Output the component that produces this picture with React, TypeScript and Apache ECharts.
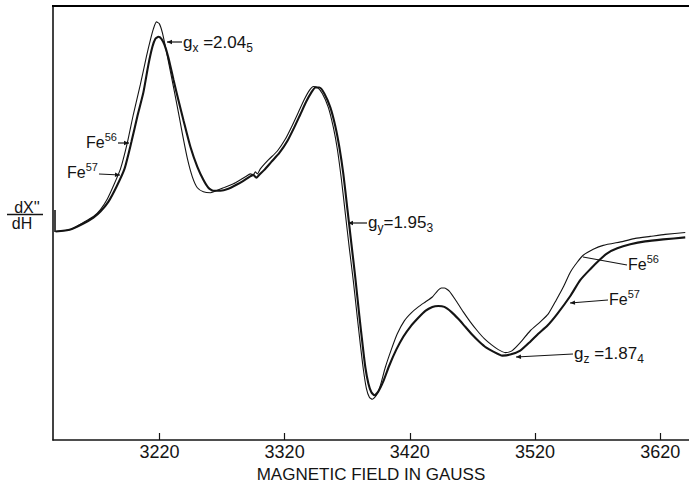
import React, { useEffect, useRef } from "react";
import * as echarts from "echarts";

// Magnetic field (gauss) and derivative signal (arbitrary units) for each isotope
const fe56Field = [3137.0, 3148.9, 3159.3, 3167.3, 3172.9, 3178.5, 3183.3, 3188.9, 3194.5, 3199.2, 3204.8, 3209.6, 3212.8, 3215.2, 3217.6, 3220.0, 3222.4, 3224.8, 3228.8, 3234.4, 3238.4, 3242.4, 3246.3, 3250.3, 3255.1, 3260.7, 3271.1, 3279.1, 3284.7, 3288.7, 3292.7, 3295.0, 3296.6, 3298.2, 3300.6, 3307.0, 3314.2, 3320.6, 3326.2, 3331.0, 3335.8, 3339.8, 3343.0, 3346.1, 3350.1, 3354.9, 3358.9, 3362.1, 3365.3, 3368.5, 3371.7, 3374.9, 3378.1, 3380.5, 3382.9, 3385.3, 3387.7, 3390.1, 3393.3, 3396.5, 3400.4, 3405.2, 3410.0, 3415.6, 3421.2, 3426.8, 3432.4, 3438.0, 3442.0, 3445.2, 3447.6, 3451.5, 3457.1, 3462.7, 3468.3, 3473.9, 3479.5, 3485.1, 3490.7, 3496.3, 3501.8, 3508.2, 3516.2, 3524.2, 3530.6, 3537.0, 3542.6, 3548.2, 3553.7, 3558.5, 3566.5, 3574.5, 3590.5, 3600.1, 3612.0, 3624.0, 3640.0];
const fe56Signal = [-1, 1, 8, 14, 21, 32, 45, 62, 89, 117, 147, 175, 192, 203, 210, 208, 199, 185, 160, 124, 97, 72, 54, 43, 39, 38, 43, 47, 51, 54, 57, 56, 59, 57, 62, 71, 80, 92, 106, 119, 132, 141, 145, 144, 138, 124, 104, 82, 52, 17, -18, -51, -88, -115, -140, -159, -168, -170, -166, -156, -138, -120, -104, -91, -83, -77, -72, -67, -61, -58, -58, -61, -71, -82, -92, -101, -109, -115, -120, -123, -121, -113, -101, -92, -84, -70, -57, -42, -32, -25, -19, -15, -11, -8, -6, -4, -2];

const fe57Field = [3137.0, 3148.9, 3159.3, 3167.3, 3172.9, 3179.3, 3185.7, 3192.1, 3197.6, 3202.4, 3207.2, 3211.2, 3214.4, 3216.8, 3219.2, 3221.6, 3224.0, 3227.2, 3231.2, 3235.2, 3239.2, 3244.8, 3250.3, 3255.1, 3259.1, 3263.1, 3268.7, 3275.1, 3281.5, 3287.1, 3291.9, 3295.0, 3297.4, 3299.8, 3303.8, 3309.4, 3315.8, 3322.2, 3327.8, 3332.6, 3337.4, 3341.4, 3344.6, 3347.7, 3351.7, 3356.5, 3360.5, 3363.7, 3366.9, 3370.1, 3373.3, 3376.5, 3379.7, 3382.1, 3384.5, 3386.9, 3389.3, 3391.7, 3394.9, 3398.8, 3403.6, 3409.2, 3414.8, 3420.4, 3426.8, 3432.4, 3438.0, 3442.8, 3447.6, 3453.1, 3458.7, 3464.3, 3469.9, 3475.5, 3481.1, 3486.7, 3493.9, 3500.2, 3508.2, 3516.2, 3522.6, 3529.8, 3537.8, 3548.2, 3556.1, 3564.1, 3572.1, 3577.7, 3585.7, 3596.1, 3608.0, 3622.4, 3640.0];
const fe57Signal = [-1, 1, 7, 13, 19, 29, 44, 62, 89, 115, 139, 167, 185, 193, 195, 193, 187, 174, 152, 131, 111, 84, 64, 51, 43, 40, 40, 42, 46, 50, 54, 56, 53, 56, 61, 69, 78, 90, 104, 117, 130, 139, 144, 144, 138, 124, 105, 84, 57, 22, -13, -48, -86, -113, -138, -154, -163, -166, -162, -152, -136, -120, -107, -97, -88, -81, -77, -76, -77, -82, -89, -97, -105, -112, -118, -122, -126, -125, -121, -112, -104, -96, -84, -66, -50, -39, -29, -23, -18, -14, -11, -9, -7];

const tickValues = [3220, 3320, 3420, 3520, 3620];
const fieldMin = 3135;
const fieldMax = 3643;
const signalMin = -211;
const signalMax = 226;

const INK = "#141414";
const FONT = "Liberation Sans";

function richLabel(x: number, y: number, text: string, align: string, size = 17) {
  const small = Math.round(size * 0.68);
  return {
    type: "text",
    x,
    y,
    style: {
      text,
      align,
      verticalAlign: "middle",
      fill: INK,
      font: `${size}px "${FONT}"`,
      rich: {
        m: { fontSize: size, fontFamily: FONT, fill: INK, lineHeight: size + 6 },
        sub: { fontSize: small, fontFamily: FONT, fill: INK, lineHeight: small, verticalAlign: "bottom" },
        sup: { fontSize: small, fontFamily: FONT, fill: INK, lineHeight: small, verticalAlign: "top" },
      },
    },
  };
}

function arrow(x1: number, y1: number, x2: number, y2: number, head = true) {
  const els: any[] = [
    { type: "line", shape: { x1, y1, x2, y2 }, style: { stroke: INK, lineWidth: 1.2 } },
  ];
  if (head) {
    const ang = Math.atan2(y2 - y1, x2 - x1);
    const L = 5;
    const W = 2.2;
    const bx = x2 - L * Math.cos(ang);
    const by = y2 - L * Math.sin(ang);
    els.push({
      type: "polygon",
      shape: {
        points: [
          [x2, y2],
          [bx + W * Math.sin(ang), by - W * Math.cos(ang)],
          [bx - W * Math.sin(ang), by + W * Math.cos(ang)],
        ],
      },
      style: { fill: INK },
    });
  }
  return els;
}

export default function App() {
  const ref = useRef<HTMLDivElement>(null);
  useEffect(() => {
    if (!ref.current) return;
    const chart = echarts.init(ref.current, null, { renderer: "svg" });
    const d56 = fe56Field.map((f, i) => [f, fe56Signal[i]]);
    const d57 = fe57Field.map((f, i) => [f, fe57Signal[i]]);
    const graphics: any[] = [
      // top frame line
      { type: "line", shape: { x1: 52, y1: 6, x2: 689, y2: 6 }, style: { stroke: "#000", lineWidth: 2 }, z: 100 },
      // y-axis label dX''/dH
      { type: "text", x: 27, y: 207, style: { text: "dX''", align: "center", verticalAlign: "middle", fill: INK, font: `16px "${FONT}"` } },
      { type: "line", shape: { x1: 7, y1: 214.5, x2: 43, y2: 214.5 }, style: { stroke: INK, lineWidth: 1.3 } },
      { type: "text", x: 22, y: 223, style: { text: "dH", align: "center", verticalAlign: "middle", fill: INK, font: `16px "${FONT}"` } },
      // baseline marker
      { type: "line", shape: { x1: 55, y1: 210, x2: 55, y2: 232 }, style: { stroke: INK, lineWidth: 1.6 } },
      // annotations
      ...arrow(182, 42, 167, 42),
      richLabel(183, 42, "{m|g}{sub|x}{m| =2.04}{sub|5}", "left", 17),
      ...arrow(118, 143, 129, 143),
      richLabel(117, 142, "{m|Fe}{sup|56}", "right", 16),
      ...arrow(99, 174, 120, 175),
      richLabel(98, 172, "{m|Fe}{sup|57}", "right", 16),
      ...arrow(367, 223, 348, 223),
      richLabel(368, 222, "{m|g}{sub|y}{m|=1.95}{sub|3}", "left", 17),
      ...arrow(583, 257, 627, 265, false),
      richLabel(628, 264, "{m|Fe}{sup|56}", "left", 16),
      ...arrow(608, 300, 570, 303),
      richLabel(609, 299, "{m|Fe}{sup|57}", "left", 16),
      ...arrow(573, 354, 516, 357),
      richLabel(574, 353, "{m|g}{sub|z}{m| =1.87}{sub|4}", "left", 17),
    ];
    chart.setOption({
      animation: false,
      backgroundColor: "#ffffff",
      grid: { left: 53, right: 0, top: 6, bottom: 45 },
      xAxis: {
        type: "value",
        min: fieldMin,
        max: fieldMax,
        position: "bottom",
        axisLine: { show: true, onZero: false, lineStyle: { color: INK, width: 1.6 } },
        axisTick: { show: true, inside: true, length: 7, customValues: tickValues, lineStyle: { color: INK, width: 1.2 } },
        axisLabel: {
          show: true,
          customValues: tickValues,
          color: INK,
          fontSize: 18,
          fontFamily: FONT,
          margin: 3,
          formatter: (v: number) => String(v),
        },
        splitLine: { show: false },
        name: "MAGNETIC FIELD IN GAUSS",
        nameLocation: "middle",
        nameGap: 26,
        nameTextStyle: { color: INK, fontSize: 17, fontFamily: FONT },
      },
      yAxis: {
        type: "value",
        min: signalMin,
        max: signalMax,
        axisLine: { show: true, onZero: false, lineStyle: { color: INK, width: 1.6 } },
        axisTick: { show: false },
        axisLabel: { show: false },
        splitLine: { show: false },
      },
      series: [
        {
          name: "Fe56",
          type: "line",
          data: d56,
          showSymbol: false,
          smooth: 0.2,
          lineStyle: { color: INK, width: 1.1 },
          z: 3,
        },
        {
          name: "Fe57",
          type: "line",
          data: d57,
          showSymbol: false,
          smooth: 0.2,
          lineStyle: { color: INK, width: 2.1 },
          z: 2,
        },
      ],
      graphic: graphics,
    });
    return () => chart.dispose();
  }, []);
  return (
    <div
      ref={ref}
      style={{ position: "fixed", left: 0, top: 0, width: 689, height: 488, background: "#fff" }}
    />
  );
}
